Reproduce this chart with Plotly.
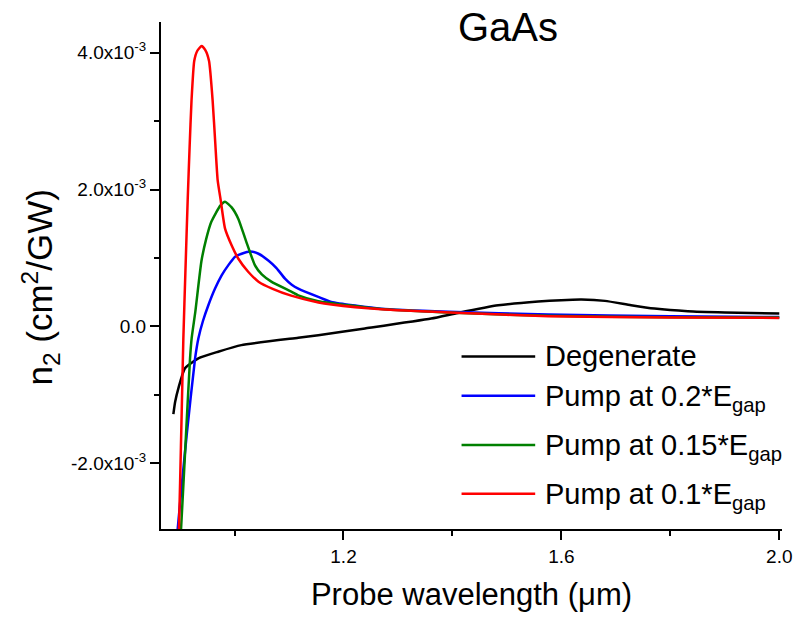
import numpy as np
import plotly.graph_objects as go

# ---- data (y values in units of 1e-3 cm^2/GW) ----
x_degenerate = [0.8877, 0.891, 0.897, 0.909, 0.9336, 0.970, 1.0125, 1.117, 1.1537, 1.2394,
                1.361, 1.410, 1.484, 1.5574, 1.600, 1.637, 1.680, 1.728, 1.771, 1.832, 1.900, 2.000]
y_degenerate = [-1.28, -1.10, -0.90, -0.61, -0.466, -0.369, -0.273, -0.164, -0.127, -0.029,
                0.116, 0.198, 0.309, 0.365, 0.385, 0.393, 0.374, 0.311, 0.262, 0.223, 0.205, 0.19]

x_pump02 = [0.8950, 0.8956, 0.912, 0.9275, 0.9336, 0.9420, 0.9519, 0.9640, 0.9763, 0.9890, 1.0009,
            1.013, 1.0284, 1.044, 1.062, 1.077, 1.0926, 1.105, 1.117, 1.1537, 1.1776, 1.269,
            1.3923, 1.5758, 1.800, 2.000]
y_pump02 = [-3.10, -2.96, -1.60, -0.47, -0.175, 0.08, 0.31, 0.55, 0.747, 0.90, 1.02,
            1.063, 1.096, 1.063, 0.965, 0.854, 0.699, 0.61, 0.553, 0.432, 0.36, 0.26,
            0.215, 0.175, 0.15, 0.138]

x_pump015 = [0.9005, 0.9018, 0.910, 0.9183, 0.9213, 0.9281, 0.9391, 0.948, 0.9574, 0.9738, 0.9826,
             0.9947, 1.007, 1.0216, 1.0376, 1.050, 1.0675, 1.1042, 1.117, 1.1537, 1.269, 1.405,
             1.576, 1.800, 2.000]
y_pump015 = [-3.10, -2.96, -1.72, -0.47, -0.17, 0.22, 0.95, 1.28, 1.53, 1.766, 1.824,
             1.74, 1.572, 1.237, 0.892, 0.76, 0.655, 0.509, 0.455, 0.37, 0.255, 0.20,
             0.155, 0.135, 0.13]

x_pump01 = [0.8975, 0.900, 0.903, 0.906, 0.910, 0.914, 0.9175, 0.921, 0.926, 0.9317, 0.9396,
            0.9464, 0.9532, 0.9598, 0.9647, 0.969, 0.9745, 0.9826, 0.995, 1.007, 1.025, 1.044,
            1.070, 1.104, 1.154, 1.178, 1.269, 1.405, 1.576, 1.800, 2.000]
y_pump01 = [-3.10, -2.30, -1.25, -0.19, 0.85, 1.85, 2.62, 3.30, 3.88, 4.03, 4.10,
            4.04, 3.88, 3.30, 2.67, 2.14, 1.85, 1.43, 1.18, 0.99, 0.80, 0.655,
            0.55, 0.45, 0.35, 0.32, 0.25, 0.20, 0.15, 0.13, 0.125]

series_names = ["Degenerate",
                "Pump at 0.2*E<sub>gap</sub>",
                "Pump at 0.15*E<sub>gap</sub>",
                "Pump at 0.1*E<sub>gap</sub>"]
series_colors = ["#000000", "#0000ff", "#008000", "#ff0000"]

x_tick_vals = [1.2, 1.6, 2.0]
x_tick_text = ["1.2", "1.6", "2.0"]
y_tick_vals = [-2.0e-3, 0.0, 2.0e-3, 4.0e-3]
y_tick_text = ["-2.0x10<sup>-3</sup>", "0.0", "2.0x10<sup>-3</sup>", "4.0x10<sup>-3</sup>"]

FONT = "Arial, Liberation Sans, sans-serif"

# the page body has an 8px margin, so the figure is laid out 8px in from the window corner
OFF = 8
W, H = 804 - OFF, 618 - OFF
plot_l, plot_r, plot_t, plot_b = 161 - OFF, 785 - OFF, 22 - OFF, 531 - OFF
pw, ph = plot_r - plot_l, plot_b - plot_t

fig = go.Figure()
all_x = [x_degenerate, x_pump02, x_pump015, x_pump01]
all_y = [y_degenerate, y_pump02, y_pump015, y_pump01]
for xs, ys, name, col in zip(all_x, all_y, series_names, series_colors):
    fig.add_trace(go.Scatter(x=xs, y=np.array(ys) * 1e-3, mode="lines", name=name,
                             line=dict(color=col, width=2.5, shape="spline", smoothing=0.5),
                             showlegend=False))

# manual legend (long line samples like the original)
legend_rows_py = [357.7 - OFF, 397.3 - OFF, 446.7 - OFF, 495.7 - OFF]
for name, col, py in zip(series_names, series_colors, legend_rows_py):
    yp = (plot_b - py) / ph
    fig.add_shape(type="line", xref="paper", yref="paper",
                  x0=(463 - OFF - plot_l) / pw, x1=(537 - OFF - plot_l) / pw, y0=yp, y1=yp,
                  line=dict(color=col, width=2.5))
    fig.add_annotation(xref="paper", yref="paper", x=(545 - OFF - plot_l) / pw, y=yp,
                       xanchor="left", yanchor="middle", text=name, showarrow=False,
                       yshift=(-2 if "sub" in name else 0),
                       font=dict(family=FONT, size=29, color="black"))

fig.add_annotation(xref="paper", yref="paper", x=(510 - OFF - plot_l) / pw, y=(plot_b - (27 - OFF)) / ph,
                   xanchor="center", yanchor="middle", text="GaAs", showarrow=False, borderpad=0,
                   font=dict(family=FONT, size=40, color="black"))

# y-axis title
fig.add_annotation(xref="paper", yref="paper", x=(40 - OFF - plot_l) / pw, y=(plot_b - (289 - OFF)) / ph,
                   xanchor="center", yanchor="middle", textangle=-90,
                   text="n<sub>2</sub> (cm<sup>2</sup>/GW)", showarrow=False,
                   font=dict(family=FONT, size=35, color="black"))

fig.update_layout(
    width=W, height=H,
    margin=dict(l=plot_l, r=W - plot_r, t=plot_t, b=H - plot_b, pad=0),
    paper_bgcolor="white", plot_bgcolor="white",
    font=dict(family=FONT, color="black"),
)
fig.update_xaxes(range=[0.865, 2.005], tickmode="array", tickvals=x_tick_vals, ticktext=x_tick_text,
                 ticks="outside", ticklen=9, tickwidth=2, tickcolor="black",
                 minor=dict(ticks="outside", tick0=1.0, dtick=0.2, ticklen=5, tickwidth=2, tickcolor="black"),
                 showline=True, linecolor="black", linewidth=2, showgrid=False, zeroline=False,
                 tickfont=dict(size=19),
                 title=dict(text="Probe wavelength (\u03bcm)", font=dict(size=31), standoff=18))
fig.update_yaxes(range=[-2.96e-3, 4.45e-3], tickmode="array", tickvals=y_tick_vals, ticktext=y_tick_text,
                 ticks="outside", ticklen=9, tickwidth=2, tickcolor="black",
                 minor=dict(ticks="outside", tick0=0, dtick=1e-3, ticklen=5, tickwidth=2, tickcolor="black"),
                 showline=True, linecolor="black", linewidth=2, showgrid=False, zeroline=False,
                 tickfont=dict(size=19))

fig.write_html("out.html")
